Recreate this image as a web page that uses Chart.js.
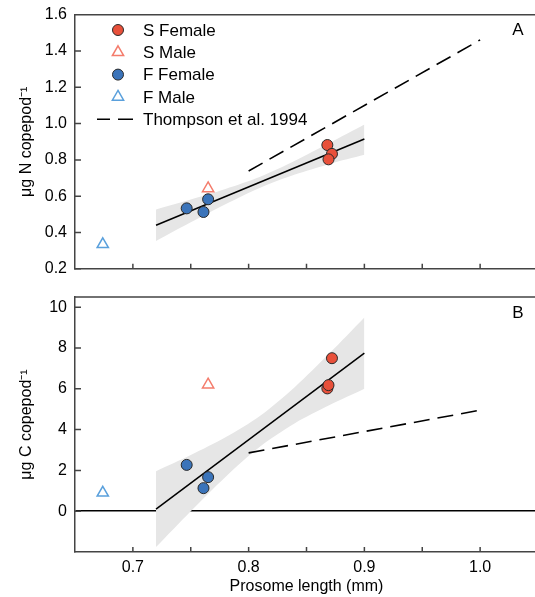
<!DOCTYPE html>
<html>
<head>
<meta charset="utf-8">
<script src="https://cdn.jsdelivr.net/npm/chart.js@4"></script>
<style>
  html, body { margin: 0; padding: 0; background: #fff; overflow: hidden; }
  #chartA { position: absolute; left: 0; top: 0; }
  #chartB { position: absolute; left: 0; top: 280px; }
</style>
</head>
<body>
<canvas id="chartA" width="546" height="282"></canvas>
<canvas id="chartB" width="546" height="317"></canvas>
<script>
// tick labels
const xTicks = [0.7, 0.8, 0.9, 1.0];
const xMinorTicks = [0.7, 0.75, 0.8, 0.85, 0.9, 0.95, 1.0];
const nTicks = [0.2, 0.4, 0.6, 0.8, 1.0, 1.2, 1.4, 1.6];
const cTicks = [0, 2, 4, 6, 8, 10];

// measured copepods (prosome length in mm)
const sFemaleLen = [0.868, 0.872, 0.869];
const sFemaleN = [0.882, 0.833, 0.803];
const sFemaleC = [6.02, 7.5, 6.18];

const sMaleLen = [0.765];
const sMaleN = [0.643];
const sMaleC = [6.2];

const fFemaleLen = [0.7465, 0.765, 0.761];
const fFemaleN = [0.533, 0.583, 0.513];
const fFemaleC = [2.27, 1.67, 1.13];

const fMaleLen = [0.674];
const fMaleN = [0.335];
const fMaleC = [0.9];

// regression + confidence band
const fitLen = [0.72, 0.9];
const fitN = [0.44, 0.915];
const fitC = [0.1, 7.75];

const bandLen = [0.72, 0.75, 0.78, 0.81, 0.84, 0.87, 0.9];
const bandNLow = [0.353, 0.456, 0.556, 0.647, 0.719, 0.778, 0.828];
const bandNHigh = [0.527, 0.582, 0.640, 0.707, 0.795, 0.894, 0.995];
const bandCLow = [-1.76, 0.0, 1.68, 3.17, 4.31, 5.2, 6.0];
const bandCHigh = [1.96, 2.75, 3.62, 4.68, 6.09, 7.75, 9.5];

// Thompson et al. 1994
const thompsonLen = [0.8, 1.0];
const thompsonN = [0.739, 1.461];
const thompsonC = [2.86, 4.95];

const FONT = "'Liberation Sans', Arial, Helvetica, sans-serif";
const RED = "#e8503a", BLUE = "#3b74ba", SALMON = "#f47c6c", LIGHTBLUE = "#5aa0dc";
const AXIS = "#444";

const pts = (xs, ys) => xs.map((x, i) => ({ x: x, y: ys[i] }));

function datasets(sF, sM, fF, fM, fit, lo, hi, th) {
  return [
    { label: "S Female", data: pts(sFemaleLen, sF), showLine: false, pointRadius: 5.5,
      backgroundColor: RED, borderColor: "#2a2a2a", pointBorderWidth: 1, order: 0 },
    { label: "S Male", data: pts(sMaleLen, sM), showLine: false, pointStyle: "triangle", pointRadius: 6.5,
      backgroundColor: "rgba(255,255,255,0)", borderColor: SALMON, pointBorderWidth: 1.5, order: 0 },
    { label: "F Female", data: pts(fFemaleLen, fF), showLine: false, pointRadius: 5.5,
      backgroundColor: BLUE, borderColor: "#2a2a2a", pointBorderWidth: 1, order: 0 },
    { label: "F Male", data: pts(fMaleLen, fM), showLine: false, pointStyle: "triangle", pointRadius: 6.5,
      backgroundColor: "rgba(255,255,255,0)", borderColor: LIGHTBLUE, pointBorderWidth: 1.5, order: 0 },
    { label: "fit", data: pts(fitLen, fit), borderColor: "#000", borderWidth: 1.5, pointRadius: 0, order: 1 },
    { label: "Thompson et al. 1994", data: pts(thompsonLen, th), borderColor: "#000", borderWidth: 1.6,
      borderDash: [16, 8], pointRadius: 0, order: 1 },
    { label: "lo", data: pts(bandLen, lo), borderWidth: 0, borderColor: "rgba(0,0,0,0)", pointRadius: 0,
      tension: 0.3, order: 3 },
    { label: "hi", data: pts(bandLen, hi), borderWidth: 0, borderColor: "rgba(0,0,0,0)", pointRadius: 0,
      tension: 0.3, fill: "-1", backgroundColor: "#e6e6e6", order: 2 }
  ];
}

// inward ticks, top frame line, panel letter, legend
const decor = {
  id: "decor",
  afterDraw(chart, args, opts) {
    const ctx = chart.ctx;
    const { left, right, top, bottom } = chart.chartArea;
    const xs = chart.scales.x, ys = chart.scales.y;
    ctx.save();
    ctx.strokeStyle = AXIS;
    ctx.lineWidth = 1.5;
    ctx.beginPath();
    ctx.moveTo(left, top);
    ctx.lineTo(right, top);
    xMinorTicks.forEach(v => {
      const px = xs.getPixelForValue(v);
      ctx.moveTo(px, bottom);
      ctx.lineTo(px, bottom - 5);
    });
    opts.yTicks.forEach(v => {
      const py = ys.getPixelForValue(v);
      ctx.moveTo(left, py);
      ctx.lineTo(left + 6, py);
    });
    ctx.stroke();

    ctx.fillStyle = "#000";
    ctx.font = "17px " + FONT;
    ctx.textAlign = "center";
    ctx.textBaseline = "middle";
    ctx.fillText(opts.letter, 518, top + 16);

    if (opts.legend) {
      const rows = [
        { text: "S Female", style: "circle", fill: RED, stroke: "#2a2a2a", r: 5.5, w: 1 },
        { text: "S Male", style: "triangle", fill: null, stroke: SALMON, r: 6.5, w: 1.5 },
        { text: "F Female", style: "circle", fill: BLUE, stroke: "#2a2a2a", r: 5.5, w: 1 },
        { text: "F Male", style: "triangle", fill: null, stroke: LIGHTBLUE, r: 6.5, w: 1.5 },
        { text: "Thompson et al. 1994", style: "dash" }
      ];
      ctx.textAlign = "left";
      rows.forEach((row, i) => {
        const y = 30 + i * 22.3;
        if (row.style === "dash") {
          ctx.strokeStyle = "#000";
          ctx.lineWidth = 1.6;
          ctx.beginPath();
          ctx.moveTo(97, y); ctx.lineTo(110, y);
          ctx.moveTo(118, y); ctx.lineTo(133, y);
          ctx.stroke();
        } else {
          ctx.fillStyle = row.fill || "rgba(255,255,255,0)";
          ctx.strokeStyle = row.stroke;
          ctx.lineWidth = row.w;
          Chart.helpers.drawPoint(ctx, { pointStyle: row.style, radius: row.r, borderWidth: row.w, rotation: 0 }, 118, y);
        }
        ctx.fillStyle = "#000";
        ctx.fillText(row.text, 143, y + 1);
      });
    }
    ctx.restore();
  }
};

function makeChart(id, cfg) {
  return new Chart(id, {
    type: "line",
    data: { datasets: cfg.datasets },
    options: {
      responsive: false,
      animation: false,
      layout: { padding: cfg.padding },
      plugins: {
        legend: { display: false },
        tooltip: { enabled: false },
        decor: { letter: cfg.letter, yTicks: cfg.yTicks, legend: cfg.legend }
      },
      scales: {
        x: {
          type: "linear",
          min: 0.65,
          max: 1.05,
          afterBuildTicks: s => { s.ticks = xTicks.map(v => ({ value: v })); },
          afterFit: s => { s.height = cfg.xHeight; },
          grid: { display: false, drawTicks: false },
          border: { display: true, color: AXIS, width: 1.5 },
          ticks: {
            display: cfg.xLabels,
            padding: 6,
            color: "#000",
            font: { family: FONT, size: 16 },
            callback: v => v.toFixed(1)
          },
          title: {
            display: cfg.xLabels,
            text: "Prosome length (mm)",
            color: "#000",
            font: { family: FONT, size: 16 },
            padding: { top: 0, bottom: 1 }
          }
        },
        y: {
          type: "linear",
          min: cfg.yMin,
          max: cfg.yMax,
          afterBuildTicks: s => { s.ticks = cfg.yTicks.map(v => ({ value: v })); },
          afterFit: s => { s.width = 75; s.paddingTop = 0; s.paddingBottom = 0; },
          grid: {
            drawTicks: false,
            lineWidth: 1.5,
            color: c => (cfg.zeroLine && c.tick && c.tick.value === 0) ? "#000" : "rgba(0,0,0,0)"
          },
          border: { display: true, color: AXIS, width: 1.5 },
          ticks: {
            padding: 8,
            color: "#000",
            font: { family: FONT, size: 16 },
            callback: cfg.fmt
          },
          title: {
            display: true,
            text: cfg.yTitle,
            color: "#000",
            font: { family: FONT, size: 16 },
            padding: { top: 17, bottom: 0 }
          }
        }
      }
    },
    plugins: [decor]
  });
}

makeChart("chartA", {
  datasets: datasets(sFemaleN, sMaleN, fFemaleN, fMaleN, fitN, bandNLow, bandNHigh, thompsonN),
  padding: { top: 14.7, bottom: 13.2, left: 0, right: 0 },
  xHeight: 0,
  xLabels: false,
  yMin: 0.2,
  yMax: 1.6,
  yTicks: nTicks,
  fmt: v => v.toFixed(1),
  yTitle: "μg N copepod⁻¹",
  letter: "A",
  legend: true,
  zeroLine: false
});

makeChart("chartB", {
  datasets: datasets(sFemaleC, sMaleC, fFemaleC, fMaleC, fitC, bandCLow, bandCHigh, thompsonC),
  padding: { top: 17, bottom: 0, left: 0, right: 0 },
  xHeight: 45,
  xLabels: true,
  yMin: -2,
  yMax: 10.5,
  yTicks: cTicks,
  fmt: v => String(v),
  yTitle: "μg C copepod⁻¹",
  letter: "B",
  legend: false,
  zeroLine: true
});
</script>
</body>
</html>
